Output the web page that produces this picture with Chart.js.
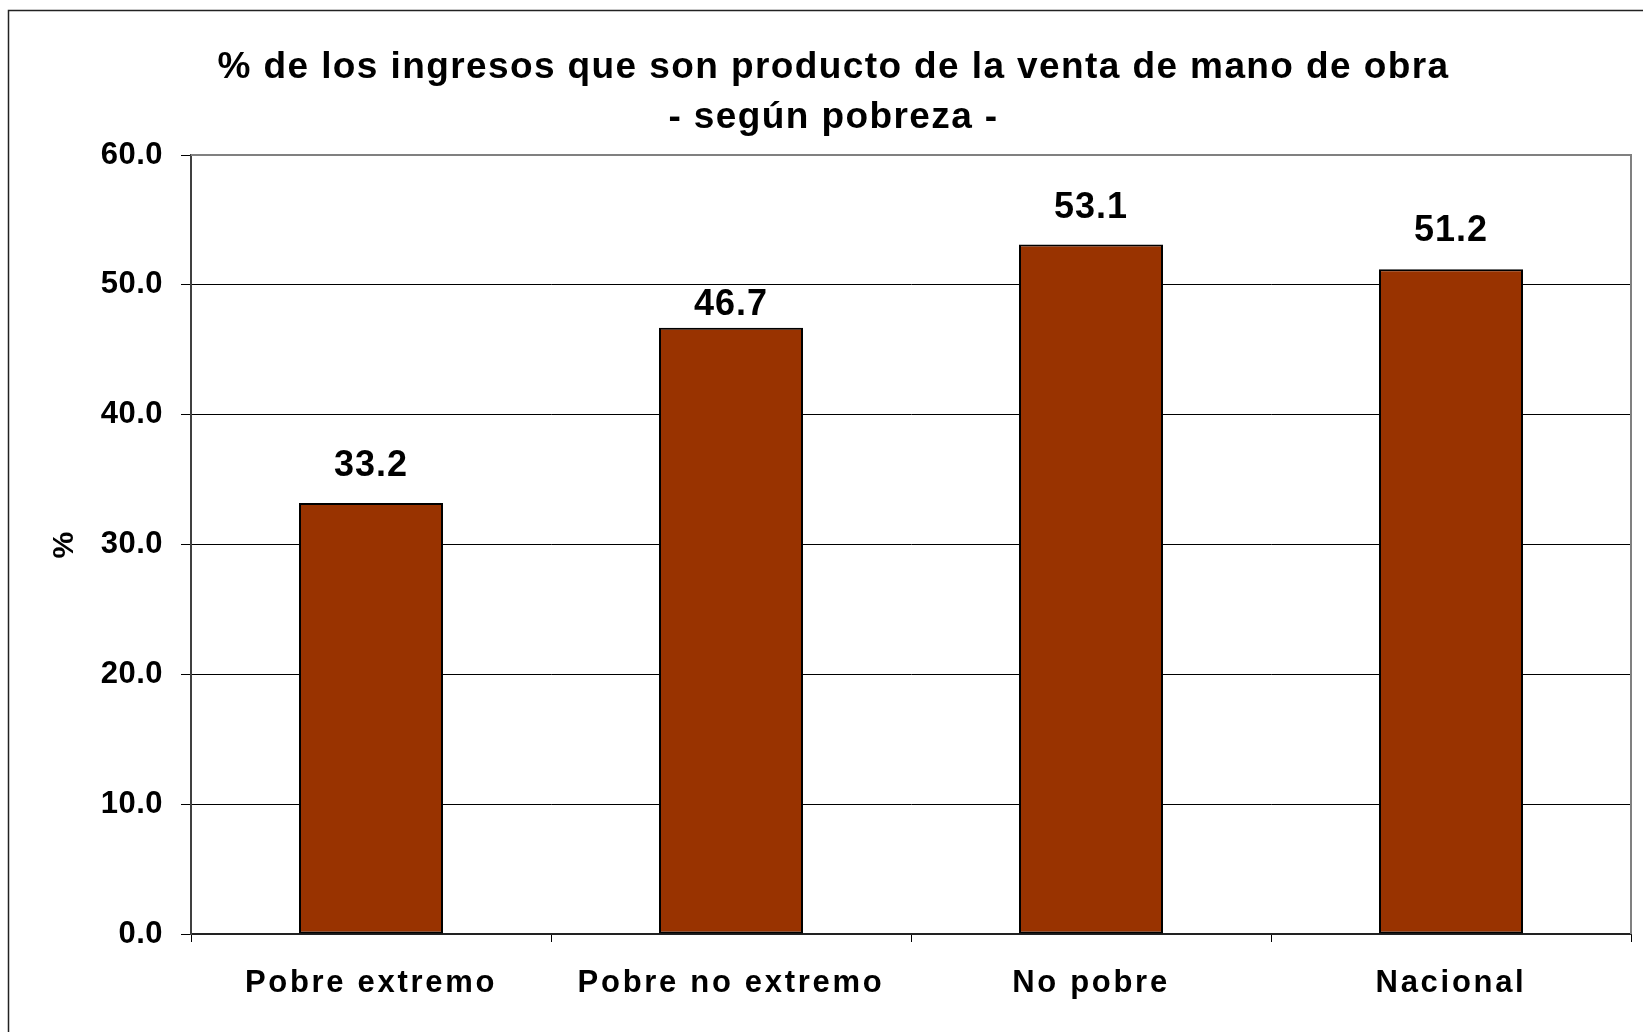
<!DOCTYPE html>
<html>
<head>
<meta charset="utf-8">
<script src="https://cdn.jsdelivr.net/npm/chart.js@4.4.0/dist/chart.umd.min.js"></script>
<style>
html, body { margin: 0; padding: 0; background: #fff; }
#wrap { width: 1643px; height: 1032px; }
</style>
</head>
<body>
<div id="wrap"><canvas id="canvas"></canvas></div>
<script>
var categories = ['Pobre extremo', 'Pobre no extremo', 'No pobre', 'Nacional'];
var values = [33.2, 46.7, 53.1, 51.2];
var titleLines = ['% de los ingresos que son producto de la venta de mano de obra', '- según pobreza -'];
var yLabel = '%';
var yMin = 0;
var yMax = 60;
var yStep = 10;

var FONT = "'Liberation Sans', Arial, sans-serif";
// gap between bar top and its value label (the 46.7 label sits lower, under the 50 line)
var labelGap = [37, 23, 37, 38];

// canvas text has no letter spacing option in chart.js, so wrap the label drawing
function spaceLabels(scale, px) {
    if (scale._spaced) return;
    var orig = scale.drawLabels;
    scale.drawLabels = function(area) {
        var ctx = this.ctx;
        var old = ctx.letterSpacing;
        ctx.letterSpacing = px;
        orig.call(this, area);
        ctx.letterSpacing = old;
    };
    scale._spaced = true;
}

var decorations = {
    id: 'decorations',
    afterLayout: function(chart) {
        spaceLabels(chart.scales.x, '2.7px');
        spaceLabels(chart.scales.y, '0.5px');
    },
    beforeDraw: function(chart) {
        var ctx = chart.ctx;
        ctx.save();
        ctx.fillStyle = '#fff';
        ctx.fillRect(0, 0, chart.width, chart.height);
        ctx.strokeStyle = '#222';
        ctx.lineWidth = 1.5;
        ctx.strokeRect(8.5, 10.5, 2000, 2000);
        ctx.restore();
        ctx.letterSpacing = '1.4px';
    },
    afterDatasetsDraw: function(chart) {
        var ctx = chart.ctx;
        var bars = chart.getDatasetMeta(0).data;
        ctx.save();
        ctx.letterSpacing = '1px';
        ctx.font = 'bold 36px ' + FONT;
        ctx.fillStyle = '#000';
        ctx.textAlign = 'center';
        ctx.textBaseline = 'middle';
        bars.forEach(function(bar, i) {
            ctx.fillText(values[i].toFixed(1), bar.x, bar.y - labelGap[i]);
        });
        ctx.restore();
    },
    afterDraw: function(chart) {
        var ctx = chart.ctx;
        var a = chart.chartArea;
        ctx.save();
        ctx.strokeStyle = '#808080';
        ctx.lineWidth = 2;
        ctx.beginPath();
        ctx.moveTo(a.left, a.top);
        ctx.lineTo(a.right, a.top);
        ctx.lineTo(a.right, a.bottom);
        ctx.stroke();
        ctx.restore();
        ctx.letterSpacing = '0px';
    }
};

var config = {
    type: 'bar',
    data: {
        labels: categories,
        datasets: [{
            data: values,
            backgroundColor: '#993300',
            borderColor: '#000',
            borderWidth: 2,
            borderSkipped: false,
            barPercentage: 0.4,
            categoryPercentage: 1.0
        }]
    },
    options: {
        responsive: true,
        maintainAspectRatio: false,
        animation: false,
        devicePixelRatio: 1,
        layout: {
            padding: { left: 36, right: 12, top: 0, bottom: 0 }
        },
        plugins: {
            legend: { display: false },
            tooltip: { enabled: false },
            title: {
                display: true,
                text: titleLines,
                color: '#000',
                font: { family: FONT, size: 37, weight: 'bold', lineHeight: '50px' },
                padding: { top: 43, bottom: 12 }
            }
        },
        scales: {
            x: {
                afterFit: function(scale) { scale.height = 98; },
                grid: {
                    offset: true,
                    drawOnChartArea: false,
                    drawTicks: true,
                    tickLength: 8,
                    color: '#000',
                    lineWidth: 1
                },
                border: { display: true, color: '#222', width: 2 },
                ticks: {
                    color: '#000',
                    padding: 23,
                    maxRotation: 0,
                    font: { family: FONT, size: 31, weight: 'bold' }
                }
            },
            y: {
                min: yMin,
                max: yMax,
                afterFit: function(scale) { scale.width = 155; },
                grid: {
                    color: '#000',
                    lineWidth: 1,
                    tickLength: 10
                },
                border: { display: true, color: '#404040', width: 2 },
                ticks: {
                    stepSize: yStep,
                    color: '#000',
                    padding: 18,
                    font: { family: FONT, size: 31, weight: 'bold' },
                    callback: function(v) { return Number(v).toFixed(1); }
                },
                title: {
                    display: true,
                    text: yLabel,
                    color: '#000',
                    font: { family: FONT, size: 30, weight: 'bold' },
                    padding: { top: 11, bottom: 0 }
                }
            }
        }
    },
    plugins: [decorations]
};

window.onload = function() {
    window.myBar = new Chart(document.getElementById('canvas'), config);
};
</script>
</body>
</html>
